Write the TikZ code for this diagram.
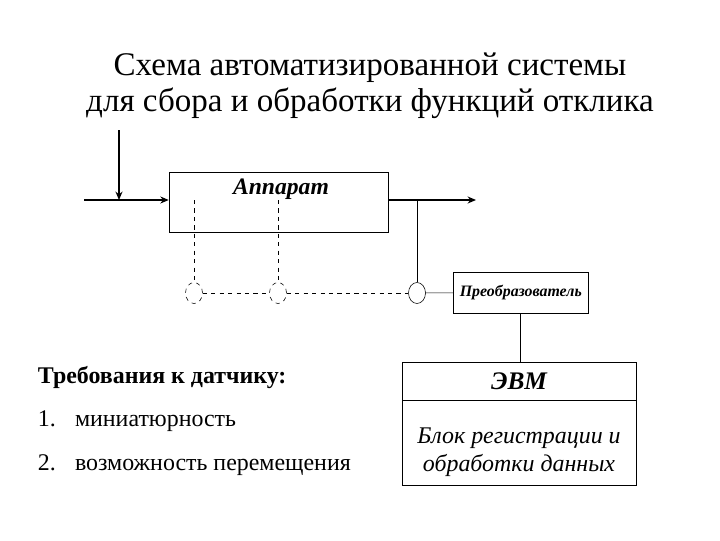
\documentclass[tikz,border=0pt]{standalone}
\usepackage{fontspec}
\setmainfont{Liberation Serif}
\usetikzlibrary{arrows.meta,positioning,shapes.geometric}

\begin{document}
\begin{tikzpicture}[
 x=0.025cm, y=-0.025cm,
 box/.style={draw, thin, minimum width=#1*0.025cm, inner sep=0pt},
 arr/.style={-{Stealth[length=6pt, width=5pt]}, thick},
 sens/.style={draw, ellipse, minimum width=17*0.025cm, minimum height=21*0.025cm, inner sep=0pt, #1},
 wire/.style={thin, #1},
 lbl/.style={font=\fontsize{#1}{#1}\selectfont\bfseries\itshape}
]
\useasboundingbox (0,0) rectangle (720,540);

% Title
\node[align=center, font=\fontsize{23.5}{25.5}\selectfont] (title) at (370,86)
 {Схема автоматизированной системы\\для сбора и обработки функций отклика};

% Apparatus
\node[box=219, minimum height=60*0.025cm] (app) at (278.5,202) {};
\node[lbl=16.8, anchor=north] (applbl) at (281,174) {Аппарат};
\coordinate (in) at (84,200);
\coordinate (dn) at (119,130);
\coordinate (out) at (476,200);
\coordinate (br) at (417,200);
\draw[arr] (in) -- (app.west |- in);
\draw[arr] (dn) -- (dn |- in);
\draw[arr] (app.east |- out) -- (out);

% Sensors
\node[sens=dashed] (s1) at (194,293) {};
\node[sens=dashed] (s2) at (278,293) {};
\node[sens=solid] (s3) at (417,293) {};
\coordinate (p1) at (194,200);
\coordinate (p2) at (278,200);
\draw[wire=dashed] (p1) -- (s1);
\draw[wire=dashed] (p2) -- (s2);
\draw[wire=dashed] (s1) -- (s2);
\draw[wire=dashed] (s2) -- (s3);
\draw[wire=solid] (br) -- (s3);

% Converter
\node[box=135, minimum height=41*0.025cm, lbl=11.3, anchor=west] (conv) at (453,292.5) {Преобразователь};
\draw[wire=solid] (s3) -- (conv);

% Computer
\node[box=234, minimum height=38*0.025cm, lbl=18] (evm) at (519,381) {ЭВМ};
\node[box=234, minimum height=85*0.025cm, anchor=north,
 font=\fontsize{17}{20.5}\selectfont\itshape] (blk) at (evm.south)
 {\raisebox{-0.37cm}[0pt][0pt]{\begin{tabular}{@{}c@{}}Блок регистрации и\\обработки данных\end{tabular}}};
\draw[wire=solid] (conv.south -| 520,0) -- (evm.north -| 520,0);

% Requirements
\node[anchor=west, font=\fontsize{17}{20}\selectfont\bfseries] (req) at (33,378) {Требования к датчику:};
\node[anchor=west, font=\fontsize{17}{20}\selectfont] (r1) at (33,421) {1.\hspace{0.8em}миниатюрность};
\node[anchor=west, font=\fontsize{17}{20}\selectfont] (r2) at (33,465) {2.\hspace{0.8em}возможность перемещения};
\end{tikzpicture}
\end{document}
